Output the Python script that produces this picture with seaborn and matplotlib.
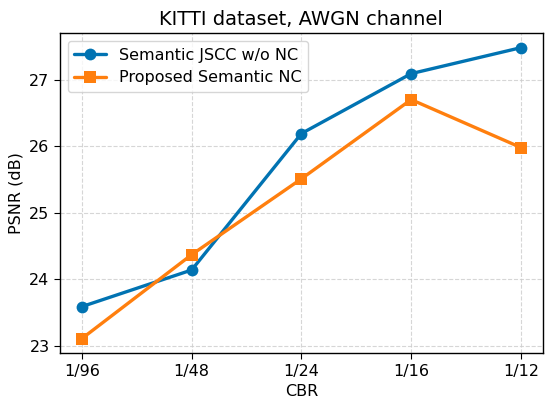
import numpy as np
import pandas as pd
import matplotlib
matplotlib.use("Agg")
import matplotlib.pyplot as plt
import seaborn as sns

cbr_labels = ["1/96", "1/48", "1/24", "1/16", "1/12"]
psnr_jscc = [23.59, 24.14, 26.19, 27.09, 27.48]
psnr_nc = [23.11, 24.37, 25.51, 26.70, 25.98]
series_names = ["Semantic JSCC w/o NC", "Proposed Semantic NC"]

df = pd.DataFrame({
    "x": list(range(len(cbr_labels))) * 2,
    "psnr": psnr_jscc + psnr_nc,
    "method": [series_names[0]] * len(cbr_labels) + [series_names[1]] * len(cbr_labels),
})

sns.set_style("ticks")
plt.rcParams['font.family'] = ['DejaVu Sans']
plt.rcParams['text.color'] = 'black'
plt.rcParams['axes.labelcolor'] = 'black'
plt.rcParams['xtick.color'] = 'black'
plt.rcParams['ytick.color'] = 'black'

fig, ax = plt.subplots(figsize=(5.5, 4.04), dpi=100)
fig.subplots_adjust(left=0.109, right=0.987, bottom=0.126, top=0.918)

sns.lineplot(data=df, x="x", y="psnr", hue="method", style="method",
             markers=["o", "s"], dashes=False,
             palette=["#0173B2", "#FF7F0E"], linewidth=2.4,
             markersize=8.5, markeredgewidth=0, ax=ax)

ax.set_xticks(range(len(cbr_labels)))
ax.set_xticklabels(cbr_labels)
ax.set_yticks([23, 24, 25, 26, 27])
ax.grid(True, linestyle="--", color="#cccccc", linewidth=0.8, alpha=0.8)
ax.set_xlabel("CBR", fontsize=11.5)
ax.set_ylabel("PSNR (dB)", fontsize=11.5)
ax.set_title("KITTI dataset, AWGN channel", fontsize=14)
ax.tick_params(labelsize=11.5, length=4, colors="black")
for s in ax.spines.values():
    s.set_linewidth(1.0)
    s.set_color("black")

ax.legend(loc="upper left", fontsize=11.5, framealpha=0.8, edgecolor="#cccccc")

plt.savefig("out.png", dpi=100)
